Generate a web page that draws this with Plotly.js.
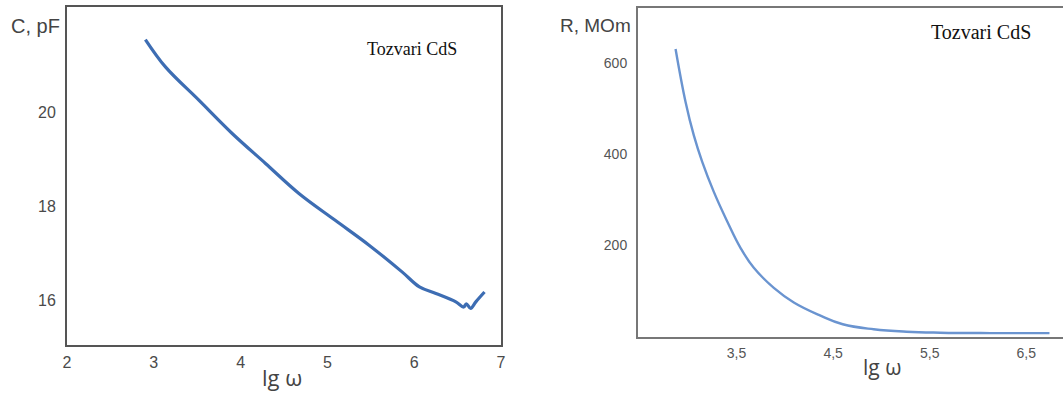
<!DOCTYPE html>
<html><head><meta charset="utf-8">
<script src="https://cdn.plot.ly/plotly-3.0.1.min.js"></script>
<style>html,body{margin:0;padding:0;background:#fff}#c{width:1064px;height:394px}</style>
</head><body><div id="c"></div>
<script>
// Left panel: capacitance vs lg ω
const lgW_C = [2.903, 3.134, 3.519, 3.903, 4.287, 4.672, 5.09, 5.48, 5.86, 6.06, 6.25, 6.48, 6.57, 6.60, 6.65, 6.71, 6.81];
const C_pF  = [21.556, 20.972, 20.262, 19.552, 18.913, 18.273, 17.70, 17.17, 16.60, 16.28, 16.14, 15.96, 15.85, 15.92, 15.82, 15.96, 16.17];
// Right panel: resistance vs lg ω
const lgW_R = [2.869, 2.973, 3.058, 3.145, 3.265, 3.404, 3.541, 3.679, 3.886, 4.093, 4.369, 4.60, 4.92, 5.26, 5.61, 6.13, 6.74];
const R_MOm = [630, 513, 440, 382, 316, 251, 193, 149, 105, 73, 44, 25, 14, 8.6, 6.5, 5.6, 5.6];

const xTicksL = [2, 3, 4, 5, 6, 7];
const yTicksL = [16, 18, 20];
const xTicksR = [3.5, 4.5, 5.5, 6.5];
const xTickTextR = ['3,5', '4,5', '5,5', '6,5'];
const yTicksR = [200, 400, 600];

const W = 1064, H = 394;
const px = v => v / W, py = v => 1 - v / H;

const traces = [
  {x: lgW_C, y: C_pF, xaxis: 'x', yaxis: 'y', mode: 'lines', line: {color: '#3d6db3', width: 3.2, shape: 'spline'}, hoverinfo: 'skip'},
  {x: lgW_R, y: R_MOm, xaxis: 'x2', yaxis: 'y2', mode: 'lines', line: {color: '#6a94d0', width: 2.4, shape: 'spline', smoothing: 1.2}, hoverinfo: 'skip'}
];

const tickFontL = {family: 'Liberation Sans, Arial', size: 16, color: '#4a4a4a'};
const tickFontR = {family: 'Liberation Sans, Arial', size: 14, color: '#555'};

const layout = {
  width: W, height: H,
  margin: {l: 0, r: 0, t: 0, b: 0},
  paper_bgcolor: '#fff', plot_bgcolor: '#fff',
  showlegend: false,
  xaxis: {domain: [px(67), px(501)], range: [2, 7], anchor: 'y', tickvals: xTicksL,
    showgrid: false, zeroline: false, showline: true, mirror: true, linecolor: '#555', linewidth: 2,
    ticks: '', ticklabelstandoff: 2, tickfont: tickFontL},
  yaxis: {domain: [py(345), py(7)], range: [15.04, 22.25], anchor: 'x', tickvals: yTicksL,
    showgrid: false, zeroline: false, showline: true, mirror: true, linecolor: '#555', linewidth: 2,
    ticks: '', ticklabelstandoff: 6, tickfont: tickFontL},
  xaxis2: {domain: [px(638), px(1063)], range: [2.48, 6.88], anchor: 'y2', tickvals: xTicksR, ticktext: xTickTextR,
    showgrid: false, zeroline: false, showline: true, mirror: 'allticks', linecolor: '#777', linewidth: 2,
    ticks: '', ticklabelstandoff: 2, tickfont: tickFontR},
  yaxis2: {domain: [py(337), py(8)], range: [-3, 720], anchor: 'x2', tickvals: yTicksR,
    showgrid: false, zeroline: false, showline: true, linecolor: '#777', linewidth: 2,
    ticks: '', ticklabelstandoff: 6, tickfont: tickFontR},
  annotations: [
    {xref: 'paper', yref: 'paper', x: px(35), y: py(26), text: 'C, pF', showarrow: false,
      font: {family: 'Liberation Sans, Arial', size: 20, color: '#444'}, xanchor: 'center', yanchor: 'middle'},
    {xref: 'paper', yref: 'paper', x: px(595), y: py(26), text: 'R, MOm', showarrow: false,
      font: {family: 'Liberation Sans, Arial', size: 19, color: '#444'}, xanchor: 'center', yanchor: 'middle'},
    {xref: 'paper', yref: 'paper', x: px(412), y: py(49), text: 'Tozvari CdS', showarrow: false,
      font: {family: 'Liberation Serif, Times New Roman', size: 18, color: '#111'}, xanchor: 'center', yanchor: 'middle'},
    {xref: 'paper', yref: 'paper', x: px(981), y: py(32), text: 'Tozvari CdS', showarrow: false,
      font: {family: 'Liberation Serif, Times New Roman', size: 20, color: '#111'}, xanchor: 'center', yanchor: 'middle'},
    {xref: 'paper', yref: 'paper', x: px(282), y: py(377), text: 'lg ω', showarrow: false,
      font: {family: 'Open Sans, Liberation Sans', size: 22, color: '#444'}, xanchor: 'center', yanchor: 'middle'},
    {xref: 'paper', yref: 'paper', x: px(882), y: py(367), text: 'lg ω', showarrow: false,
      font: {family: 'Open Sans, Liberation Sans', size: 21, color: '#444'}, xanchor: 'center', yanchor: 'middle'}
  ]
};
Plotly.newPlot('c', traces, layout, {staticPlot: true, displayModeBar: false});
</script></body></html>
